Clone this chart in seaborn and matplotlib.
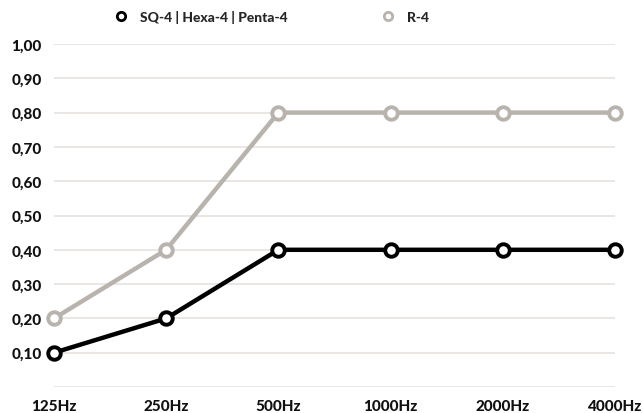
import pandas as pd
import matplotlib
matplotlib.use("Agg")
import matplotlib.pyplot as plt
import seaborn as sns
from matplotlib.lines import Line2D

# данные с графика
freqs = ["125Hz", "250Hz", "500Hz", "1000Hz", "2000Hz", "4000Hz"]
sq4 = [0.10, 0.20, 0.40, 0.40, 0.40, 0.40]
r4 = [0.20, 0.40, 0.80, 0.80, 0.80, 0.80]
series_names = ["SQ-4 | Hexa-4 | Penta-4", "R-4"]
colors = ["#000000", "#b9b3ad"]
yticks = [0.1, 0.2, 0.3, 0.4, 0.5, 0.6, 0.7, 0.8, 0.9, 1.0]

df = pd.DataFrame({
    "freq": freqs * 2,
    "pos": list(range(len(freqs))) * 2,
    "value": sq4 + r4,
    "series": [series_names[0]] * len(freqs) + [series_names[1]] * len(freqs),
})

sns.set_style("white")
plt.rcParams["font.family"] = ["Lato", "DejaVu Sans"]

fig = plt.figure(figsize=(6.43, 4.14), dpi=100)
ax = fig.add_axes([54 / 643, 26 / 414, 561 / 643, 343 / 414])

# рисуем R-4 снизу, SQ-4 сверху
for name, color, z in [(series_names[1], colors[1], 3), (series_names[0], colors[0], 4)]:
    sns.lineplot(
        data=df[df["series"] == name], x="pos", y="value", ax=ax,
        color=color, linewidth=3.2, marker="o", markersize=9,
        markerfacecolor="white", markeredgecolor=color, markeredgewidth=2.8,
        zorder=z, clip_on=False, legend=False,
    )

ax.set_xlim(0, len(freqs) - 1)
ax.set_ylim(0, 1.0)
ax.set_yticks(yticks)
ax.set_yticklabels([f"{v:.2f}".replace(".", ",") for v in yticks])
ax.set_xticks(range(len(freqs)))
ax.set_xticklabels(freqs)
ax.set_xlabel("")
ax.set_ylabel("")

for y in [0.0] + yticks:
    ax.axhline(y, color="#e3dfdb", linewidth=1.1, zorder=1)

for s in ax.spines.values():
    s.set_visible(False)
ax.tick_params(length=0, labelsize=11, colors="#111111")
ax.tick_params(axis="y", pad=9)
ax.tick_params(axis="x", pad=9)
for lbl in ax.get_xticklabels() + ax.get_yticklabels():
    lbl.set_fontweight("black")

handles = [
    Line2D([], [], linestyle="none", marker="o", markersize=6, markerfacecolor="white",
           markeredgecolor=c, markeredgewidth=2)
    for c in colors
]
fig.legend(handles, series_names, loc="center", bbox_to_anchor=(268 / 643, 1 - 17 / 414), ncol=2,
           frameon=False, handletextpad=0.4, columnspacing=6.2,
           prop={"weight": "black", "size": 10})

fig.savefig("out.png", dpi=100)
